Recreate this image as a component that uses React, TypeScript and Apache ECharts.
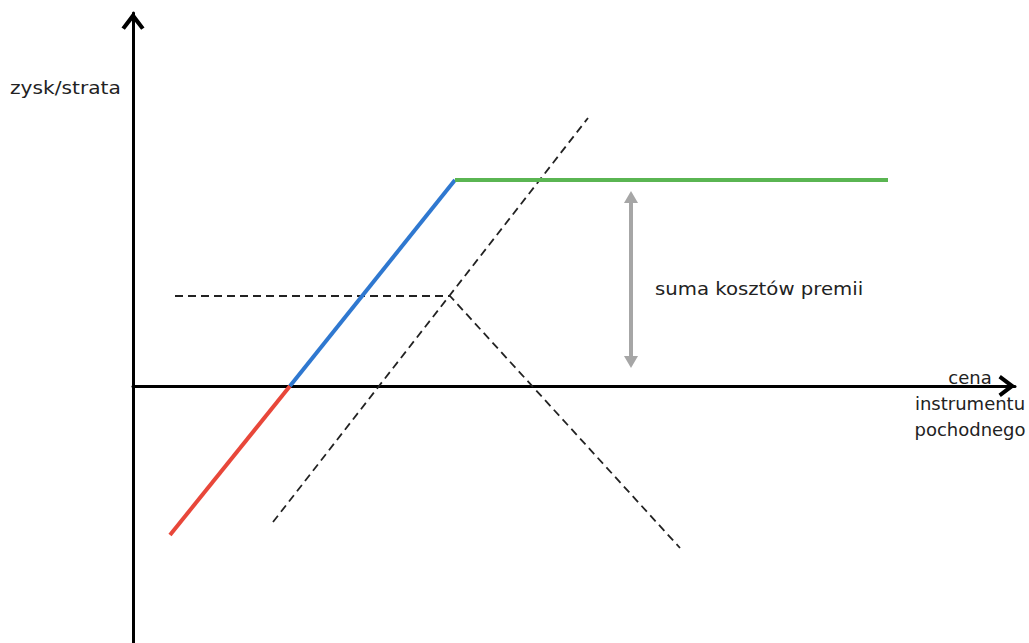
import React, { useEffect, useRef } from "react";
import * as echarts from "echarts";

// Payoff segments (x: instrument price, y: profit/loss), in chart units
const lossSegment = [[3.7, -14.9], [15.7, 0]];
const riseSegment = [[15.7, 0], [32.2, 20.6]];
const capSegment = [[32.2, 20.6], [75.5, 20.6]];
const longLeg = [[14.0, -13.6], [45.5, 26.8]];
const shortLeg = [[4.2, 9.0], [31.7, 9.0], [54.7, -16.2]];
const premiumSpan = [[49.8, 18.9], [49.8, 2.4]];

const xRange = [0, 88.2];
const yRange = [-25.7, 37.3];

const yTitle = "zysk/strata";
const xTitle = ["cena", "instrumentu", "pochodnego"];
const premiumLabel = "suma kosztów premii";

const chevron = "path://M0,16 L12,0 L24,16 L20.5,18.5 L12,7.5 L3.5,18.5 Z";

export default function App() {
  const ref = useRef<HTMLDivElement>(null);
  useEffect(() => {
    if (!ref.current) return;
    const chart = echarts.init(ref.current, null, { renderer: "svg" });
    const font = "DejaVu Sans";
    const textColor = "#222222";
    const axisCommon = {
      type: "value" as const,
      axisTick: { show: false },
      axisLabel: { show: false },
      splitLine: { show: false },
    };
    chart.setOption({
      animation: false,
      backgroundColor: "#ffffff",
      grid: { left: 133, right: 14, top: 13, bottom: 0, containLabel: false },
      xAxis: {
        ...axisCommon,
        min: xRange[0],
        max: xRange[1],
        axisLine: {
          show: true,
          onZero: true,
          symbol: ["none", chevron],
          symbolSize: [22, 17],
          symbolOffset: [0, -8],
          lineStyle: { color: "#000", width: 3 },
        },
      },
      yAxis: {
        ...axisCommon,
        min: yRange[0],
        max: yRange[1],
        axisLine: {
          show: true,
          onZero: true,
          symbol: ["none", chevron],
          symbolSize: [23, 18],
          symbolOffset: [0, -8],
          lineStyle: { color: "#000", width: 3 },
        },
      },
      graphic: [
        {
          type: "text",
          x: 10,
          y: 88,
          scaleX: 1.12,
          style: { text: yTitle, font: `18px '${font}'`, fill: textColor, textAlign: "left", textVerticalAlign: "middle" },
        },
        ...xTitle.map((t, i) => ({
          type: "text",
          x: 970,
          y: 377 + i * 26,
          style: { text: t, font: `18px '${font}'`, fill: textColor, textAlign: "center", textVerticalAlign: "middle" },
        })),
        {
          type: "text",
          x: 655,
          y: 288,
          scaleX: 1.095,
          style: { text: premiumLabel, font: `18px '${font}'`, fill: textColor, textAlign: "left", textVerticalAlign: "middle" },
        },
      ],
      series: [
        {
          type: "line",
          data: longLeg,
          showSymbol: false,
          silent: true,
          lineStyle: { color: "#222", width: 1.8, type: [8, 5] },
          z: 2,
        },
        {
          type: "line",
          data: shortLeg,
          showSymbol: false,
          silent: true,
          lineStyle: { color: "#222", width: 1.8, type: [8, 5] },
          z: 2,
        },
        {
          type: "line",
          data: lossSegment,
          showSymbol: false,
          silent: true,
          lineStyle: { color: "#e8473a", width: 4 },
          z: 3,
        },
        {
          type: "line",
          data: riseSegment,
          showSymbol: false,
          silent: true,
          lineStyle: { color: "#2f78d0", width: 4 },
          z: 3,
        },
        {
          type: "line",
          data: capSegment,
          showSymbol: false,
          silent: true,
          lineStyle: { color: "#5ab552", width: 4 },
          z: 3,
        },
        {
          type: "line",
          data: [],
          silent: true,
          markLine: {
            silent: true,
            symbol: ["triangle", "triangle"],
            symbolSize: [14, 12],
            label: { show: false },
            lineStyle: { color: "#a6a6a6", width: 4, type: "solid" },
            data: [[{ coord: premiumSpan[0] }, { coord: premiumSpan[1] }]],
          },
        },
      ],
    });
    return () => chart.dispose();
  }, []);
  return (
    <div
      ref={ref}
      style={{ position: "fixed", left: 0, top: 0, width: 1029, height: 643, background: "#fff" }}
    />
  );
}
